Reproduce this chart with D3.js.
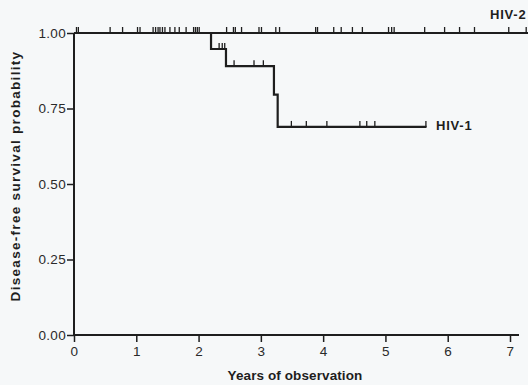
<!DOCTYPE html>
<html>
<head>
<meta charset="utf-8">
<script src="https://cdn.jsdelivr.net/npm/d3@7"></script>
<style>
  body { margin: 0; background: #f6f8f9; }
  svg { display: block; }
</style>
</head>
<body>
<div id="chart"></div>
<script>
// Kaplan-Meier steps: [time (years), survival after that time]
const hiv1Steps = [[0, 1.0], [2.2, 0.947], [2.44, 0.89], [3.21, 0.796], [3.27, 0.689], [5.66, 0.689]];
const hiv1Censor = [2.33, 2.38, 2.42, 2.57, 2.89, 3.04, 3.49, 3.73, 4.06, 4.59, 4.70, 4.83, 5.65];

const hiv2Steps = [[0, 1.0], [7.4, 1.0]];
const hiv2Censor = [0.04, 0.07, 0.58, 0.78, 1.02, 1.06, 1.27, 1.31, 1.35, 1.38, 1.42, 1.46,
  1.54, 1.62, 1.69, 1.80, 1.92, 1.95, 1.98, 2.01, 2.45, 2.56, 2.59, 2.69, 2.97, 3.01,
  3.24, 3.30, 3.88, 3.91, 4.17, 4.29, 4.47, 4.63, 5.05, 5.10, 5.14, 5.63, 5.95, 6.19,
  6.43, 6.98, 7.26];

const xTicks = [0, 1, 2, 3, 4, 5, 6, 7];
const yTicks = [0, 0.25, 0.5, 0.75, 1.0];

const width = 528, height = 385;
const ink = "#1e1e1e";
const font = "Liberation Sans, Arial, sans-serif";

const svg = d3.select("#chart").append("svg")
  .attr("width", width).attr("height", height)
  .style("font-family", font);

const x = d3.scaleLinear().domain([0, 7]).range([74, 510]);
const y = d3.scaleLinear().domain([0, 1]).range([335, 33]);

// axes
const xAxis = svg.append("g")
  .attr("transform", `translate(0,${y(0)})`)
  .call(d3.axisBottom(x).tickValues(xTicks).tickFormat(d3.format("d")).tickSize(7).tickPadding(4));
xAxis.select(".domain").attr("d", `M${x(0)},0H519`);

const yAxis = svg.append("g")
  .attr("transform", `translate(${x(0)},0)`)
  .call(d3.axisLeft(y).tickValues(yTicks).tickFormat(d3.format(".2f")).tickSize(7).tickPadding(1));
yAxis.select(".domain").attr("d", `M0,${y(1)}V${y(0)}`);

svg.selectAll(".tick line").attr("stroke", ink).attr("stroke-width", 1.5);
svg.selectAll(".domain").attr("stroke", ink).attr("stroke-width", 2).attr("fill", "none");
svg.selectAll(".tick text").attr("fill", "#2a2a2a")
  .style("font-size", "13.5px").style("letter-spacing", "0.3px").style("font-family", font);

// survival curves
const line = d3.line().curve(d3.curveStepAfter)
  .x(d => x(d[0])).y(d => y(d[1]));

function survAt(steps, t) {
  let v = steps[0][1];
  steps.forEach(s => { if (s[0] <= t) v = s[1]; });
  return v;
}

function drawCurve(steps, censor) {
  svg.append("path")
    .datum(steps)
    .attr("d", line)
    .attr("fill", "none")
    .attr("stroke", ink)
    .attr("stroke-width", 2.2);

  svg.append("g").selectAll("line")
    .data(censor)
    .join("line")
    .attr("x1", d => x(d)).attr("x2", d => x(d))
    .attr("y1", d => y(survAt(steps, d)))
    .attr("y2", d => y(survAt(steps, d)) - 6)
    .attr("stroke", ink)
    .attr("stroke-width", 1.3);
}

drawCurve(hiv2Steps, hiv2Censor);
drawCurve(hiv1Steps, hiv1Censor);

// curve labels
svg.append("text").attr("x", 436).attr("y", 130)
  .style("font-size", "13px").style("font-weight", "bold").style("letter-spacing", "0.8px")
  .attr("fill", ink).text("HIV-1");
svg.append("text").attr("x", 490).attr("y", 19)
  .style("font-size", "13px").style("font-weight", "bold").style("letter-spacing", "0.8px")
  .attr("fill", ink).text("HIV-2");

// axis titles
svg.append("text")
  .attr("x", 295).attr("y", 380)
  .attr("text-anchor", "middle")
  .style("font-size", "13.5px").style("font-weight", "bold").style("letter-spacing", "0.1px")
  .attr("fill", ink)
  .text("Years of observation");

svg.append("text")
  .attr("transform", "translate(20,176) rotate(-90)")
  .attr("text-anchor", "middle")
  .style("font-size", "13.5px").style("font-weight", "bold").style("letter-spacing", "1.3px")
  .attr("fill", ink)
  .text("Disease-free survival probability");
</script>
</body>
</html>
